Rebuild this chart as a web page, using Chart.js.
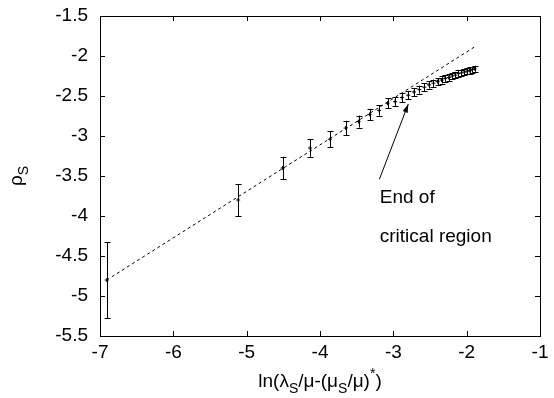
<!DOCTYPE html>
<html>
<head>
<meta charset="utf-8">
<script src="https://cdn.jsdelivr.net/npm/chart.js@4.4.1/dist/chart.umd.min.js"></script>
<style>
  html, body { margin: 0; padding: 0; background: #fff; }
  #wrap { width: 554px; height: 398px; }
</style>
</head>
<body>
<div id="wrap"><canvas id="rhoChart" width="554" height="398"></canvas></div>
<script>
// valores
const lnX = [-6.908, -5.116, -4.510, -4.135, -3.863, -3.650, -3.474, -3.324, -3.194, -3.079,
             -2.976, -2.882, -2.797, -2.718, -2.645, -2.577, -2.513, -2.453, -2.397, -2.343,
             -2.293, -2.244, -2.198, -2.154, -2.112, -2.071, -2.033, -1.995, -1.959, -1.924, -1.890];
const rhoS = [-4.80, -3.80, -3.40, -3.15, -3.04, -2.90, -2.82, -2.73, -2.68, -2.59,
              -2.57, -2.52, -2.49, -2.45, -2.42, -2.39, -2.36, -2.34, -2.32, -2.30,
              -2.28, -2.27, -2.25, -2.24, -2.22, -2.21, -2.20, -2.19, -2.18, -2.17, -2.16];
const rhoErr = [0.475, 0.20, 0.14, 0.11, 0.10, 0.09, 0.075, 0.07, 0.065, 0.06,
                0.058, 0.055, 0.053, 0.05, 0.05, 0.048, 0.047, 0.046, 0.045, 0.044,
                0.043, 0.042, 0.042, 0.041, 0.04, 0.04, 0.04, 0.039, 0.039, 0.038, 0.038];

// recta de ajuste (extremos)
const fitX = [-6.908, -1.886];
const fitY = [-4.80, -1.883];

const xTicks = [-7, -6, -5, -4, -3, -2, -1];
const yTicks = [-5.5, -5, -4.5, -4, -3.5, -3, -2.5, -2, -1.5];

// anotacion: texto y flecha en coordenadas de datos
const noteLines = ['End of', 'critical region'];
const noteX = -3.185;
const noteY = [-3.84, -4.325];
const arrowFrom = [-3.19, -3.54];
const arrowTo = [-2.796, -2.60];

const FONT = '"Liberation Sans", Arial, sans-serif';

const errorBarPlugin = {
    id: 'errorBars',
    afterDatasetsDraw(chart) {
        const { ctx, scales: { x, y } } = chart;
        ctx.save();
        ctx.strokeStyle = '#000';
        ctx.lineWidth = 1;
        lnX.forEach((xv, i) => {
            const px = Math.round(x.getPixelForValue(xv)) + 0.5;
            const top = y.getPixelForValue(rhoS[i] + rhoErr[i]);
            const bot = y.getPixelForValue(rhoS[i] - rhoErr[i]);
            ctx.beginPath();
            ctx.moveTo(px, top);
            ctx.lineTo(px, bot);
            ctx.moveTo(px - 3, Math.round(top) + 0.5);
            ctx.lineTo(px + 3, Math.round(top) + 0.5);
            ctx.moveTo(px - 3, Math.round(bot) + 0.5);
            ctx.lineTo(px + 3, Math.round(bot) + 0.5);
            ctx.stroke();
        });
        ctx.restore();
    }
};

const framePlugin = {
    id: 'frame',
    afterDraw(chart) {
        const { ctx, chartArea: a, scales: { x, y } } = chart;
        const tick = 5;
        ctx.save();
        ctx.strokeStyle = '#000';
        ctx.lineWidth = 1;
        ctx.beginPath();
        xTicks.forEach(v => {
            const px = Math.round(x.getPixelForValue(v)) + 0.5;
            ctx.moveTo(px, a.bottom); ctx.lineTo(px, a.bottom - tick);
            ctx.moveTo(px, a.top); ctx.lineTo(px, a.top + tick);
        });
        yTicks.forEach(v => {
            const py = Math.round(y.getPixelForValue(v)) + 0.5;
            ctx.moveTo(a.left, py); ctx.lineTo(a.left + tick, py);
            ctx.moveTo(a.right, py); ctx.lineTo(a.right - tick, py);
        });
        ctx.stroke();
        ctx.strokeRect(Math.round(a.left) + 0.5, Math.round(a.top) + 0.5,
                       Math.round(a.right - a.left), Math.round(a.bottom - a.top));

        // anotacion
        ctx.fillStyle = '#000';
        ctx.font = '19px ' + FONT;
        ctx.textAlign = 'left';
        ctx.textBaseline = 'alphabetic';
        noteLines.forEach((t, i) => {
            ctx.fillText(t, x.getPixelForValue(noteX), y.getPixelForValue(noteY[i]));
        });
        const x0 = x.getPixelForValue(arrowFrom[0]), y0 = y.getPixelForValue(arrowFrom[1]);
        const x1 = x.getPixelForValue(arrowTo[0]), y1 = y.getPixelForValue(arrowTo[1]);
        ctx.beginPath();
        ctx.moveTo(x0, y0);
        ctx.lineTo(x1, y1);
        ctx.stroke();
        const ang = Math.atan2(y1 - y0, x1 - x0);
        const hl = 9, hw = 0.3;
        ctx.beginPath();
        ctx.moveTo(x1, y1);
        ctx.lineTo(x1 - hl * Math.cos(ang - hw), y1 - hl * Math.sin(ang - hw));
        ctx.lineTo(x1 - hl * Math.cos(ang + hw), y1 - hl * Math.sin(ang + hw));
        ctx.closePath();
        ctx.fill();
        ctx.restore();
    }
};

// dibuja texto con sub/superindices
function drawRich(ctx, parts, x, y, size) {
    let cx = x;
    parts.forEach(p => {
        const s = p.mode ? Math.round(size * 0.72) : size;
        ctx.font = s + 'px ' + FONT;
        const dy = p.mode === 'sub' ? size * 0.3 : (p.mode === 'sup' ? -size * 0.45 : 0);
        ctx.fillText(p.t, cx, y + dy);
        cx += ctx.measureText(p.t).width;
    });
}
function richWidth(ctx, parts, size) {
    let w = 0;
    parts.forEach(p => {
        const s = p.mode ? Math.round(size * 0.72) : size;
        ctx.font = s + 'px ' + FONT;
        w += ctx.measureText(p.t).width;
    });
    return w;
}

const xTitle = [
    { t: 'ln(λ' }, { t: 'S', mode: 'sub' }, { t: '/μ-(μ' }, { t: 'S', mode: 'sub' },
    { t: '/μ)' }, { t: '*', mode: 'sup' }, { t: ')' }
];
const yTitle = [{ t: 'ρ' }, { t: 'S', mode: 'sub' }];

const titlesPlugin = {
    id: 'axisTitles',
    afterDraw(chart) {
        const { ctx, chartArea: a } = chart;
        const size = 19;
        ctx.save();
        ctx.fillStyle = '#000';
        ctx.textBaseline = 'alphabetic';
        ctx.textAlign = 'left';
        const wx = richWidth(ctx, xTitle, size);
        drawRich(ctx, xTitle, (a.left + a.right) / 2 - wx / 2, a.bottom + 51, size);

        const wy = richWidth(ctx, yTitle, size);
        ctx.translate(a.left - 78, (a.top + a.bottom) / 2);
        ctx.rotate(-Math.PI / 2);
        drawRich(ctx, yTitle, -wy / 2, 0, size);
        ctx.restore();
    }
};

const ctx = document.getElementById('rhoChart');

new Chart(ctx, {
    type: 'scatter',
    data: {
        datasets: [
            {
                label: 'rhoS',
                data: lnX.map((v, i) => ({ x: v, y: rhoS[i] })),
                pointStyle: 'cross',
                pointRadius: 2,
                borderColor: '#000',
                backgroundColor: '#000',
                borderWidth: 1
            },
            {
                label: 'ajuste',
                data: fitX.map((v, i) => ({ x: v, y: fitY[i] })),
                showLine: true,
                borderColor: '#000',
                borderWidth: 1,
                borderDash: [3, 3],
                pointRadius: 0
            }
        ]
    },
    options: {
        responsive: false,
        animation: false,
        devicePixelRatio: 1,
        layout: { padding: { top: 16, right: 14, left: 0, bottom: 0 } },
        plugins: {
            legend: { display: false },
            tooltip: { enabled: false }
        },
        scales: {
            x: {
                type: 'linear',
                min: -7,
                max: -1,
                afterFit(scale) {
                    scale.height = 62;
                    scale.paddingLeft = 0;
                    scale.paddingRight = 0;
                },
                afterBuildTicks(scale) { scale.ticks = xTicks.map(v => ({ value: v })); },
                grid: { display: false, drawTicks: false },
                border: { display: false },
                ticks: {
                    color: '#000',
                    padding: 5,
                    font: { family: FONT, size: 19 },
                    callback: v => String(v)
                }
            },
            y: {
                type: 'linear',
                min: -5.5,
                max: -1.5,
                afterFit(scale) {
                    scale.width = 100;
                    scale.paddingTop = 0;
                    scale.paddingBottom = 0;
                },
                afterBuildTicks(scale) { scale.ticks = yTicks.map(v => ({ value: v })); },
                grid: { display: false, drawTicks: false },
                border: { display: false },
                ticks: {
                    color: '#000',
                    padding: 12,
                    font: { family: FONT, size: 19 },
                    callback: v => String(v)
                }
            }
        }
    },
    plugins: [errorBarPlugin, framePlugin, titlesPlugin]
});
</script>
</body>
</html>
